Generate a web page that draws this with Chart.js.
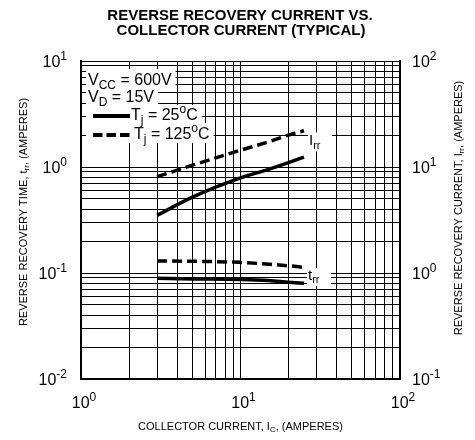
<!DOCTYPE html>
<html>
<head>
<meta charset="utf-8">
<script src="https://cdn.jsdelivr.net/npm/chart.js@4.4.1/dist/chart.umd.min.js"></script>
<style>
  html, body { margin: 0; padding: 0; background: #fff; }
  canvas { display: block; }
</style>
</head>
<body>
<canvas id="chart" width="475" height="440"></canvas>
<script>
// collector current (A) where the curves were read
const icAmps = [3, 5, 10, 15, 20, 25]
// reverse recovery current, right axis (A)
const irr25 = [3.5, 5.2, 7.9, 9.5, 11, 12.4]
const irr125 = [8.1, 10.4, 14.4, 17.3, 20, 22]
// reverse recovery time, left axis
const trr25 = [0.089, 0.088, 0.087, 0.085, 0.082, 0.080]
const trr125 = [0.130, 0.129, 0.126, 0.121, 0.117, 0.113]

const xGrid = [1, 2, 3, 4, 5, 6, 7, 8, 9, 10, 20, 30, 40, 50, 60, 70, 80, 90, 100]
const yGrid = [0.01, 0.02, 0.03, 0.04, 0.05, 0.06, 0.07, 0.08, 0.09, 0.1, 0.2, 0.3, 0.4, 0.5, 0.6, 0.7, 0.8, 0.9,
  1, 2, 3, 4, 5, 6, 7, 8, 9, 10]
const xLabels = [[1, '0'], [10, '1'], [100, '2']]
const yLeftLabels = [[10, '1'], [1, '0'], [0.1, '-1'], [0.01, '-2']]
const yRightLabels = [[100, '2'], [10, '1'], [1, '0'], [0.1, '-1']]

const FONT = 'Arial, "Liberation Sans", sans-serif'

function pts(values) {
  return icAmps.map((x, i) => ({ x, y: values[i] }))
}

function curve(values, axis, dashed) {
  return {
    data: pts(values),
    yAxisID: axis,
    borderColor: '#000',
    borderWidth: 3.5,
    borderDash: dashed ? [10, 5] : [],
    pointRadius: 0,
    cubicInterpolationMode: 'monotone',
  }
}

// draw text pieces with sub/superscripts: parts = [[text, 'n'|'sub'|'sup'], ...]
function rich(ctx, parts, x, y, size, align, weight) {
  const small = Math.round(size * 0.72)
  const w = weight || 'normal'
  let total = 0
  const widths = parts.map(([t, k]) => {
    ctx.font = `${w} ${k === 'n' ? size : small}px ${FONT}`
    const m = ctx.measureText(t).width
    total += m
    return m
  })
  let cx = align === 'center' ? x - total / 2 : align === 'right' ? x - total : x
  ctx.textAlign = 'left'
  ctx.textBaseline = 'alphabetic'
  parts.forEach(([t, k], i) => {
    ctx.font = `${w} ${k === 'n' ? size : small}px ${FONT}`
    const dy = k === 'sub' ? size * 0.22 : k === 'sup' ? -size * 0.42 : 0
    ctx.fillText(t, cx, y + dy)
    cx += widths[i]
  })
  return total
}

function whiteBox(ctx, x, y, w, h) {
  ctx.fillStyle = '#fff'
  ctx.fillRect(x, y, w, h)
  ctx.fillStyle = '#000'
}

const textPlugin = {
  id: 'texts',
  beforeDatasetsDraw(chart) {
    const ctx = chart.ctx
    const xs = chart.scales.x
    const yl = chart.scales.y
    const yr = chart.scales.yR
    ctx.save()
    ctx.fillStyle = '#000'

    // legend block, white behind the rows
    const lx = 88
    const rows = [
      [[['V', 'n'], ['CC', 'sub'], [' = 600V', 'n']], 85, null],
      [[['V', 'n'], ['D', 'sub'], [' = 15V', 'n']], 102, null],
      [[['T', 'n'], ['j', 'sub'], [' = 25', 'n'], ['o', 'sup'], ['C', 'n']], 120, 'solid'],
      [[['T', 'n'], ['j', 'sub'], [' = 125', 'n'], ['o', 'sup'], ['C', 'n']], 139, 'dash'],
    ]
    rows.forEach(([parts, by, line], i) => {
      const tx = line ? lx + 43 + (line === 'dash' ? 3 : 0) : lx
      const w = rich(ctx, parts, -1000, -1000, 16, 'left')
      const top = i === 0 ? by - 16 : rows[i - 1][1] + 3
      whiteBox(ctx, lx - 2, top, tx - lx + w + 6, by + 4 - top)
    })
    rows.forEach(([parts, by, line]) => {
      const tx = line ? lx + 43 + (line === 'dash' ? 3 : 0) : lx
      rich(ctx, parts, tx, by, 16, 'left')
      if (line) {
        ctx.strokeStyle = '#000'
        ctx.lineWidth = 4
        ctx.setLineDash(line === 'dash' ? [9.5, 4] : [])
        ctx.beginPath()
        ctx.moveTo(lx + 5, by - 4)
        ctx.lineTo(lx + 42, by - 4)
        ctx.stroke()
        ctx.setLineDash([])
      }
    })

    // curve labels
    const irrX = xs.getPixelForValue(25) + 5
    const irrY = yr.getPixelForValue(16)
    whiteBox(ctx, irrX - 1, irrY - 13, 24, 19)
    rich(ctx, [['I', 'n'], ['rr', 'sub']], irrX, irrY, 15, 'left')
    const trrX = xs.getPixelForValue(25) + 4
    const trrY = yl.getPixelForValue(0.1) + 7
    whiteBox(ctx, trrX - 1, trrY - 12, 24, 18)
    rich(ctx, [['t', 'n'], ['rr', 'sub']], trrX, trrY, 15, 'left')
    ctx.restore()
  },
  afterDraw(chart) {
    const ctx = chart.ctx
    const area = chart.chartArea
    const xs = chart.scales.x
    const yl = chart.scales.y
    const yr = chart.scales.yR
    ctx.save()
    ctx.fillStyle = '#000'

    ctx.textAlign = 'center'
    ctx.font = `bold 15px ${FONT}`
    ctx.fillText('REVERSE RECOVERY CURRENT VS.', 240, 20)
    ctx.fillText('COLLECTOR CURRENT (TYPICAL)', 241, 35)

    xLabels.forEach(([v, e]) => {
      const px = xs.getPixelForValue(v)
      rich(ctx, [['10', 'n'], [e, 'sup']], px + 3, area.bottom + 29, 16, 'center')
    })
    yLeftLabels.forEach(([v, e]) => {
      const py = yl.getPixelForValue(v)
      rich(ctx, [['10', 'n'], [e, 'sup']], area.left - 14, py + 6, 16, 'right')
    })
    yRightLabels.forEach(([v, e]) => {
      const py = yr.getPixelForValue(v)
      rich(ctx, [['10', 'n'], [e, 'sup']], area.right + 12, py + 6, 16, 'left')
    })

    rich(ctx, [['COLLECTOR CURRENT, I', 'n'], ['C', 'sub'], [', (AMPERES)', 'n']],
      (area.left + area.right) / 2, area.bottom + 51, 11, 'center')

    ctx.save()
    ctx.translate(27, 212)
    ctx.rotate(-Math.PI / 2)
    rich(ctx, [['REVERSE RECOVERY TIME, t', 'n'], ['rr', 'sub'], [', (AMPERES)', 'n']], 0, 0, 11, 'center')
    ctx.restore()

    ctx.save()
    ctx.translate(462, 208)
    ctx.rotate(-Math.PI / 2)
    rich(ctx, [['REVERSE RECOVERY CURRENT, I', 'n'], ['rr', 'sub'], [', (AMPERES)', 'n']], 0, 0, 11, 'center')
    ctx.restore()

    ctx.restore()
  },
}

function logAxis(min, max, grid, position, size, showGrid) {
  return {
    type: 'logarithmic',
    position,
    min,
    max,
    grid: {
      display: true,
      drawOnChartArea: showGrid,
      drawTicks: false,
      color: '#000',
      lineWidth: 1,
    },
    border: { display: true, color: '#000', width: 2 },
    ticks: { display: false },
    afterBuildTicks: (s) => { s.ticks = grid.map((v) => ({ value: v })) },
    afterFit: (s) => {
      if (position === 'bottom') s.height = size
      else s.width = size
    },
  }
}

new Chart(document.getElementById('chart'), {
  type: 'line',
  data: {
    datasets: [
      curve(irr25, 'yR', false),
      curve(irr125, 'yR', true),
      curve(trr25, 'y', false),
      curve(trr125, 'y', true),
    ],
  },
  options: {
    responsive: false,
    animation: false,
    layout: { padding: { top: 61, left: 0, right: 0, bottom: 0 } },
    plugins: {
      legend: { display: false },
      tooltip: { enabled: false },
    },
    scales: {
      x: logAxis(1, 100, xGrid, 'bottom', 61, true),
      y: logAxis(0.01, 10, yGrid, 'left', 81, true),
      yR: logAxis(0.1, 100, yGrid.map((v) => v * 10), 'right', 75, false),
    },
  },
  plugins: [textPlugin],
})
</script>
</body>
</html>
